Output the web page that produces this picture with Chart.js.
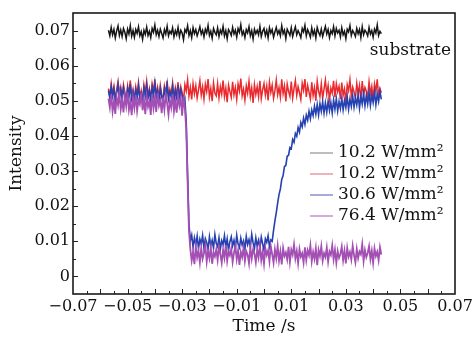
<!DOCTYPE html>
<html><head><meta charset="utf-8">
<script src="https://cdn.jsdelivr.net/npm/chart.js@4"></script>
<style>html,body{margin:0;padding:0;background:#fff}</style>
</head><body>
<canvas id="c" width="476" height="337"></canvas>
<script>
const times = [
-0.057,-0.0565,-0.056,-0.0555,-0.055,-0.0545,-0.054,-0.0535,-0.053,-0.0525,
-0.052,-0.0515,-0.051,-0.0505,-0.05,-0.0495,-0.049,-0.0485,-0.048,-0.0475,
-0.047,-0.0465,-0.046,-0.0455,-0.045,-0.0445,-0.044,-0.0435,-0.043,-0.0425,
-0.042,-0.0415,-0.041,-0.0405,-0.04,-0.0395,-0.039,-0.0385,-0.038,-0.0375,
-0.037,-0.0365,-0.036,-0.0355,-0.035,-0.0345,-0.034,-0.0335,-0.033,-0.0325,
-0.032,-0.0315,-0.031,-0.0305,-0.03,-0.0295,-0.029,-0.0285,-0.028,-0.0275,
-0.027,-0.0265,-0.026,-0.0255,-0.025,-0.0245,-0.024,-0.0235,-0.023,-0.0225,
-0.022,-0.0215,-0.021,-0.0205,-0.02,-0.0195,-0.019,-0.0185,-0.018,-0.0175,
-0.017,-0.0165,-0.016,-0.0155,-0.015,-0.0145,-0.014,-0.0135,-0.013,-0.0125,
-0.012,-0.0115,-0.011,-0.0105,-0.01,-0.0095,-0.009,-0.0085,-0.008,-0.0075,
-0.007,-0.0065,-0.006,-0.0055,-0.005,-0.0045,-0.004,-0.0035,-0.003,-0.0025,
-0.002,-0.0015,-0.001,-0.0005,0,0.0005,0.001,0.0015,0.002,0.0025,
0.003,0.0035,0.004,0.0045,0.005,0.0055,0.006,0.0065,0.007,0.0075,
0.008,0.0085,0.009,0.0095,0.01,0.0105,0.011,0.0115,0.012,0.0125,
0.013,0.0135,0.014,0.0145,0.015,0.0155,0.016,0.0165,0.017,0.0175,
0.018,0.0185,0.019,0.0195,0.02,0.0205,0.021,0.0215,0.022,0.0225,
0.023,0.0235,0.024,0.0245,0.025,0.0255,0.026,0.0265,0.027,0.0275,
0.028,0.0285,0.029,0.0295,0.03,0.0305,0.031,0.0315,0.032,0.0325,
0.033,0.0335,0.034,0.0345,0.035,0.0355,0.036,0.0365,0.037,0.0375,
0.038,0.0385,0.039,0.0395,0.04,0.0405,0.041,0.0415,0.042,0.0425,
0.043];

const substrateBlack = [
0.0701,0.0685,0.0709,0.0688,0.0703,0.0679,0.0699,0.0713,0.0686,0.0702,
0.0683,0.0706,0.0695,0.0677,0.0704,0.0690,0.0714,0.0684,0.0700,0.0681,
0.0703,0.0692,0.0711,0.0685,0.0697,0.0675,0.0701,0.0689,0.0710,0.0686,
0.0698,0.0680,0.0706,0.0695,0.0716,0.0688,0.0701,0.0683,0.0704,0.0692,
0.0679,0.0703,0.0690,0.0712,0.0685,0.0698,0.0691,0.0708,0.0682,0.0700,
0.0688,0.0709,0.0683,0.0701,0.0693,0.0674,0.0703,0.0695,0.0714,0.0686,
0.0700,0.0680,0.0708,0.0691,0.0703,0.0685,0.0697,0.0711,0.0690,0.0701,
0.0682,0.0704,0.0693,0.0715,0.0686,0.0698,0.0678,0.0706,0.0695,0.0688,
0.0708,0.0683,0.0701,0.0691,0.0712,0.0685,0.0700,0.0677,0.0703,0.0696,
0.0686,0.0709,0.0690,0.0701,0.0681,0.0706,0.0695,0.0717,0.0688,0.0698,
0.0680,0.0703,0.0693,0.0711,0.0685,0.0700,0.0676,0.0704,0.0691,0.0701,
0.0688,0.0712,0.0683,0.0698,0.0706,0.0686,0.0701,0.0679,0.0708,0.0693,
0.0703,0.0681,0.0696,0.0709,0.0690,0.0700,0.0685,0.0714,0.0691,0.0701,
0.0677,0.0704,0.0695,0.0686,0.0708,0.0683,0.0698,0.0711,0.0688,0.0700,
0.0691,0.0680,0.0706,0.0696,0.0715,0.0685,0.0703,0.0693,0.0681,0.0708,
0.0688,0.0701,0.0679,0.0709,0.0695,0.0686,0.0704,0.0683,0.0698,0.0712,
0.0690,0.0703,0.0680,0.0700,0.0691,0.0711,0.0685,0.0706,0.0693,0.0701,
0.0682,0.0708,0.0688,0.0698,0.0677,0.0704,0.0696,0.0714,0.0686,0.0700,
0.0693,0.0683,0.0706,0.0691,0.0703,0.0680,0.0711,0.0688,0.0701,0.0695,
0.0685,0.0709,0.0690,0.0700,0.0681,0.0704,0.0693,0.0716,0.0686,0.0698,
0.0691];

const red102 = [
0.0535,0.0512,0.0549,0.0518,0.0541,0.0506,0.0531,0.0555,0.0515,0.0538,
0.0510,0.0546,0.0524,0.0502,0.0543,0.0520,0.0558,0.0513,0.0533,0.0505,
0.0540,0.0517,0.0552,0.0511,0.0529,0.0498,0.0545,0.0521,0.0556,0.0514,
0.0535,0.0508,0.0548,0.0525,0.0561,0.0516,0.0538,0.0503,0.0544,0.0519,
0.0501,0.0542,0.0522,0.0557,0.0512,0.0533,0.0518,0.0551,0.0507,0.0537,
0.0516,0.0553,0.0509,0.0540,0.0524,0.0497,0.0546,0.0528,0.0560,0.0513,
0.0538,0.0504,0.0549,0.0520,0.0543,0.0508,0.0531,0.0557,0.0516,0.0540,
0.0505,0.0547,0.0526,0.0562,0.0511,0.0535,0.0499,0.0551,0.0522,0.0514,
0.0549,0.0508,0.0540,0.0519,0.0558,0.0512,0.0536,0.0496,0.0545,0.0526,
0.0510,0.0554,0.0517,0.0538,0.0504,0.0548,0.0528,0.0563,0.0514,0.0533,
0.0502,0.0543,0.0522,0.0556,0.0512,0.0537,0.0494,0.0546,0.0518,0.0540,
0.0511,0.0557,0.0506,0.0531,0.0549,0.0516,0.0542,0.0501,0.0553,0.0524,
0.0545,0.0507,0.0529,0.0559,0.0517,0.0538,0.0510,0.0561,0.0520,0.0542,
0.0498,0.0548,0.0527,0.0513,0.0555,0.0508,0.0535,0.0558,0.0516,0.0540,
0.0523,0.0504,0.0550,0.0530,0.0562,0.0511,0.0544,0.0525,0.0505,0.0553,
0.0515,0.0538,0.0500,0.0556,0.0527,0.0512,0.0548,0.0507,0.0533,0.0559,
0.0519,0.0543,0.0503,0.0536,0.0522,0.0557,0.0510,0.0549,0.0526,0.0541,
0.0505,0.0552,0.0516,0.0534,0.0497,0.0546,0.0529,0.0560,0.0513,0.0539,
0.0525,0.0508,0.0550,0.0520,0.0544,0.0502,0.0556,0.0516,0.0538,0.0527,
0.0511,0.0554,0.0519,0.0541,0.0504,0.0548,0.0526,0.0561,0.0514,0.0535,
0.0523];

const blue306 = [
0.0529,0.0507,0.0540,0.0513,0.0534,0.0500,0.0522,0.0546,0.0509,0.0531,
0.0503,0.0537,0.0516,0.0497,0.0533,0.0511,0.0548,0.0506,0.0525,0.0499,
0.0531,0.0510,0.0543,0.0504,0.0520,0.0495,0.0536,0.0513,0.0545,0.0508,
0.0527,0.0501,0.0539,0.0516,0.0550,0.0509,0.0529,0.0498,0.0535,0.0512,
0.0496,0.0534,0.0514,0.0547,0.0505,0.0524,0.0510,0.0541,0.0500,0.0528,
0.0508,0.0544,0.0502,0.0531,0.0515,0.0494,0.0506,0.0440,0.0290,0.0150,
0.0102,0.0118,0.0083,0.0110,0.0090,0.0115,0.0079,0.0106,0.0092,0.0117,
0.0081,0.0108,0.0097,0.0076,0.0113,0.0088,0.0103,0.0080,0.0119,0.0094,
0.0085,0.0110,0.0078,0.0102,0.0090,0.0116,0.0084,0.0107,0.0074,0.0099,
0.0113,0.0087,0.0103,0.0079,0.0117,0.0092,0.0082,0.0109,0.0089,0.0101,
0.0077,0.0114,0.0091,0.0105,0.0083,0.0120,0.0096,0.0080,0.0110,0.0086,
0.0103,0.0081,0.0112,0.0093,0.0075,0.0107,0.0097,0.0116,0.0085,0.0104,
0.0100,0.0131,0.0158,0.0182,0.0209,0.0233,0.0249,0.0276,0.0287,0.0313,
0.0316,0.0342,0.0345,0.0367,0.0364,0.0390,0.0382,0.0407,0.0399,0.0424,
0.0411,0.0438,0.0426,0.0451,0.0433,0.0459,0.0445,0.0470,0.0449,0.0474,
0.0458,0.0485,0.0462,0.0489,0.0460,0.0492,0.0470,0.0497,0.0465,0.0494,
0.0468,0.0499,0.0472,0.0495,0.0466,0.0502,0.0476,0.0506,0.0471,0.0498,
0.0478,0.0507,0.0474,0.0501,0.0481,0.0511,0.0476,0.0505,0.0484,0.0514,
0.0482,0.0509,0.0488,0.0517,0.0479,0.0513,0.0491,0.0520,0.0486,0.0515,
0.0491,0.0522,0.0487,0.0516,0.0495,0.0525,0.0489,0.0519,0.0498,0.0527,
0.0504];

const purple764 = [
0.0506,0.0481,0.0518,0.0470,0.0500,0.0463,0.0511,0.0488,0.0521,0.0476,
0.0503,0.0467,0.0514,0.0485,0.0524,0.0474,0.0497,0.0459,0.0509,0.0480,
0.0517,0.0471,0.0501,0.0490,0.0522,0.0473,0.0505,0.0462,0.0513,0.0483,
0.0498,0.0460,0.0519,0.0479,0.0508,0.0468,0.0523,0.0487,0.0503,0.0465,
0.0510,0.0475,0.0516,0.0493,0.0461,0.0502,0.0481,0.0520,0.0470,0.0499,
0.0466,0.0514,0.0486,0.0507,0.0458,0.0512,0.0480,0.0420,0.0270,0.0130,
0.0078,0.0045,0.0070,0.0035,0.0085,0.0054,0.0073,0.0040,0.0081,0.0050,
0.0066,0.0088,0.0042,0.0072,0.0052,0.0083,0.0036,0.0069,0.0057,0.0077,
0.0047,0.0084,0.0063,0.0039,0.0076,0.0053,0.0089,0.0044,0.0071,0.0060,
0.0079,0.0041,0.0067,0.0087,0.0049,0.0074,0.0033,0.0070,0.0055,0.0082,
0.0044,0.0072,0.0062,0.0037,0.0083,0.0051,0.0077,0.0065,0.0040,0.0076,
0.0054,0.0088,0.0046,0.0070,0.0036,0.0080,0.0061,0.0074,0.0043,0.0086,
0.0063,0.0039,0.0077,0.0052,0.0087,0.0045,0.0071,0.0034,0.0081,0.0058,
0.0068,0.0048,0.0084,0.0041,0.0076,0.0062,0.0091,0.0051,0.0072,0.0038,
0.0078,0.0056,0.0066,0.0040,0.0083,0.0047,0.0074,0.0060,0.0089,0.0043,
0.0070,0.0050,0.0080,0.0032,0.0075,0.0058,0.0086,0.0045,0.0066,0.0055,
0.0082,0.0042,0.0071,0.0061,0.0088,0.0049,0.0076,0.0039,0.0072,0.0053,
0.0064,0.0085,0.0046,0.0073,0.0037,0.0081,0.0056,0.0069,0.0048,0.0087,
0.0060,0.0040,0.0078,0.0052,0.0071,0.0063,0.0092,0.0044,0.0075,0.0055,
0.0067,0.0086,0.0049,0.0073,0.0039,0.0080,0.0058,0.0070,0.0046,0.0083,
0.0062];

const seriesLabels = ['10.2 W/mm²','10.2 W/mm²','30.6 W/mm²','76.4 W/mm²'];
const annotationText = 'substrate';
const xTickValues = [-0.07,-0.05,-0.03,-0.01,0.01,0.03,0.05,0.07];
const xTickLabels = ['\u22120.07','\u22120.05','\u22120.03','\u22120.01','0.01','0.03','0.05','0.07'];
const yTickValues = [0,0.01,0.02,0.03,0.04,0.05,0.06,0.07];
const yTickLabels = ['0','0.01','0.02','0.03','0.04','0.05','0.06','0.07'];

const FONT = 'DejaVu Serif';
const lineColors = ['#161616','#ea2a2e','#2541b2','#a44fb4'];
const legendColors = ['#9a9a9a','#e58a94','#7b7cc2','#c57ac8'];
const seriesValues = [substrateBlack, red102, blue306, purple764];
const drawOrder = [1, 4, 3, 2];
const lineWidths = [1.5, 1.5, 1.6, 1.8];

const datasets = seriesValues.map((vals, k) => ({
  label: seriesLabels[k],
  data: times.map((t, i) => ({x: t, y: vals[i]})),
  borderColor: lineColors[k],
  borderWidth: lineWidths[k],
  pointRadius: 0,
  tension: 0,
  fill: false,
  order: drawOrder[k]
}));

const decor = {
  id: 'decor',
  afterDatasetsDraw(chart) {
    const ctx = chart.ctx, a = chart.chartArea;
    const xs = chart.scales.x, ys = chart.scales.y;
    ctx.save();
    ctx.strokeStyle = '#222';
    ctx.lineWidth = 1;
    for (let k = 1; k < 28; k++) {
      const v = -0.07 + k * 0.005;
      const px = Math.round(xs.getPixelForValue(v)) + 0.5;
      const len = (k % 2 === 0) ? 5 : 3;
      ctx.beginPath(); ctx.moveTo(px, a.bottom); ctx.lineTo(px, a.bottom - len); ctx.stroke();
    }
    for (let k = 1; k < 16; k++) {
      const v = -0.005 + k * 0.005;
      const py = Math.round(ys.getPixelForValue(v)) + 0.5;
      const len = (k % 2 === 1) ? 5 : 3;
      ctx.beginPath(); ctx.moveTo(a.left, py); ctx.lineTo(a.left + len, py); ctx.stroke();
    }
    ctx.lineWidth = 1.6;
    ctx.strokeStyle = '#1a1a1a';
    ctx.strokeRect(a.left, a.top, a.right - a.left, a.bottom - a.top);
    ctx.fillStyle = '#111';
    ctx.font = '17px "' + FONT + '"';
    ctx.textAlign = 'right';
    ctx.textBaseline = 'alphabetic';
    ctx.fillText(annotationText, a.right - 4, a.top + 42);
    ctx.textAlign = 'left';
    ctx.textBaseline = 'middle';
    for (let i = 0; i < seriesLabels.length; i++) {
      const y = a.top + 140 + 21 * i;
      ctx.strokeStyle = legendColors[i];
      ctx.lineWidth = 1.3;
      ctx.beginPath(); ctx.moveTo(a.right - 145, y); ctx.lineTo(a.right - 122, y); ctx.stroke();
      ctx.fillStyle = '#111';
      ctx.fillText(seriesLabels[i], a.right - 117, y);
    }
    ctx.restore();
  }
};

new Chart(document.getElementById('c'), {
  type: 'line',
  data: { datasets },
  options: {
    responsive: false,
    animation: false,
    devicePixelRatio: 1,
    layout: { padding: { top: 13, right: 21, left: 0, bottom: 0 } },
    plugins: { legend: { display: false }, tooltip: { enabled: false } },
    scales: {
      x: {
        type: 'linear', min: -0.07, max: 0.07,
        afterBuildTicks: s => { s.ticks = xTickValues.map(v => ({ value: v })); },
        afterFit: s => { s.height = 43; },
        grid: { display: false, drawTicks: false },
        border: { display: false },
        ticks: {
          autoSkip: false, maxRotation: 0, padding: 3, color: '#111',
          font: { family: FONT, size: 16 },
          callback: v => xTickLabels[xTickValues.indexOf(v)]
        },
        title: { display: true, text: 'Time /s', color: '#111', font: { family: FONT, size: 17 }, padding: { top: 0, bottom: 0 } }
      },
      y: {
        type: 'linear', min: -0.005, max: 0.075,
        afterBuildTicks: s => { s.ticks = yTickValues.map(v => ({ value: v })); },
        afterFit: s => { s.width = 73; },
        grid: { display: false, drawTicks: false },
        border: { display: false },
        ticks: {
          autoSkip: false, padding: 3, color: '#111',
          font: { family: FONT, size: 16 },
          callback: v => yTickLabels[yTickValues.indexOf(v)]
        },
        title: { display: true, text: 'Intensity', color: '#111', font: { family: FONT, size: 17 }, padding: { top: 6, bottom: 0 } }
      }
    }
  },
  plugins: [decor]
});
</script>
</body></html>
